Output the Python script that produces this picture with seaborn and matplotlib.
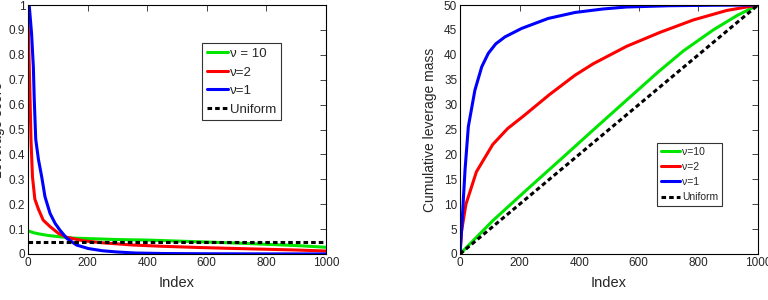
import numpy as np
import pandas as pd
import matplotlib
matplotlib.use("Agg")
import matplotlib.pyplot as plt
import seaborn as sns

sns.set_style("white")
plt.rcParams['font.family'] = ['Liberation Sans', 'DejaVu Sans']

# ---- Left panel: leverage scores ----
idx_nu1 = [0, 4, 12, 18, 21, 26, 35, 46, 57, 74, 91, 107, 130, 163, 202, 250, 300, 360, 450, 600, 800, 1000]
score_nu1 = [1.0, 1.0, 0.885, 0.75, 0.62, 0.46, 0.38, 0.31, 0.23, 0.163, 0.123, 0.096, 0.063, 0.036, 0.022, 0.013, 0.008, 0.004, 0.002, 0.001, 0.0005, 0.0003]

idx_nu2 = [0, 2, 7, 10, 15, 23, 35, 51, 74, 102, 130, 186, 250, 353, 450, 577, 700, 801, 900, 1000]
score_nu2 = [0.97, 0.86, 0.62, 0.46, 0.31, 0.22, 0.18, 0.136, 0.11, 0.083, 0.067, 0.053, 0.045, 0.036, 0.031, 0.026, 0.022, 0.019, 0.016, 0.012]

idx_nu10 = [0, 20, 40, 70, 100, 150, 200, 300, 400, 500, 600, 700, 800, 900, 1000]
score_nu10 = [0.093, 0.085, 0.08, 0.074, 0.07, 0.064, 0.062, 0.058, 0.056, 0.052, 0.048, 0.044, 0.039, 0.034, 0.027]

idx_unif = [0, 1000]
score_unif = [0.05, 0.05]

# ---- Right panel: cumulative leverage mass ----
cidx_nu1 = [0, 5.6, 17, 28, 50, 73, 95, 120, 151, 207, 296, 386, 480, 559, 700, 850, 1000]
cum_nu1 = [0, 5.0, 17.0, 25.6, 32.9, 37.6, 40.3, 42.2, 43.6, 45.3, 47.3, 48.5, 49.2, 49.6, 49.85, 49.95, 50]

cidx_nu2 = [0, 5, 20, 55, 110, 160, 215, 300, 386, 447, 559, 671, 783, 895, 1000]
cum_nu2 = [0, 4.5, 10.0, 16.5, 22.0, 25.2, 27.8, 32.0, 35.9, 38.2, 41.7, 44.5, 47.0, 48.9, 50]

cidx_nu10 = [0, 112, 224, 336, 447, 559, 666, 750, 850, 930, 1000]
cum_nu10 = [0, 6.8, 12.9, 18.9, 24.9, 30.9, 36.6, 40.8, 45.0, 47.9, 50]

cidx_unif = [0, 1000]
cum_unif = [0, 50]

GREEN, RED, BLUE = "#00e600", "#ff0000", "#0000ff"
DASH = (0, (1.5, 1.0))

fig = plt.figure(figsize=(7.68, 3.0), dpi=100)
axL = fig.add_axes([28/768, 1-254/300, 298/768, 249/300])
axR = fig.add_axes([460/768, 1-254/300, 298/768, 249/300])

lw = 2.2
sns.lineplot(x=idx_nu10, y=score_nu10, ax=axL, color=GREEN, lw=lw, label="ν = 10")
sns.lineplot(x=idx_nu2, y=score_nu2, ax=axL, color=RED, lw=lw, label="ν=2")
sns.lineplot(x=idx_nu1, y=score_nu1, ax=axL, color=BLUE, lw=lw, label="ν=1")
sns.lineplot(x=idx_unif, y=score_unif, ax=axL, color="black", lw=lw, label="Uniform", linestyle=DASH)

sns.lineplot(x=cidx_nu10, y=cum_nu10, ax=axR, color=GREEN, lw=lw, label="ν=10")
sns.lineplot(x=cidx_nu2, y=cum_nu2, ax=axR, color=RED, lw=lw, label="ν=2")
sns.lineplot(x=cidx_nu1, y=cum_nu1, ax=axR, color=BLUE, lw=lw, label="ν=1")
sns.lineplot(x=cidx_unif, y=cum_unif, ax=axR, color="black", lw=lw, label="Uniform", linestyle=DASH)

for ax in (axL, axR):
    ax.set_xlim(0, 1000)
    ax.set_xticks([0, 200, 400, 600, 800, 1000])
    ax.tick_params(direction="in", top=True, right=True, length=4, width=0.6, labelsize=8.5, pad=2)
    for s in ax.spines.values():
        s.set_linewidth(0.8)
        s.set_color("black")
    ax.set_xlabel("Index", fontsize=10.5, labelpad=0)
    ax.xaxis.set_label_coords(0.5, -0.088)

axL.set_ylim(0, 1)
axL.set_yticks(np.arange(0, 1.01, 0.1))
axL.set_yticklabels(["0"] + [f"{v:.1f}" for v in np.arange(0.1, 0.95, 0.1)] + ["1"])
axL.set_ylabel("Leverage score", fontsize=10)
axL.yaxis.set_label_coords(-0.077, 0.5)

axR.set_ylim(0, 50)
axR.set_yticks(range(0, 51, 5))
axR.set_ylabel("Cumulative leverage mass", fontsize=10)
axR.yaxis.set_label_coords(-0.077, 0.5)

legL = axL.legend(loc="upper left", bbox_to_anchor=(0.584, 0.847), fontsize=9.5, frameon=True,
                  fancybox=False, edgecolor="black", handlelength=1.6, handletextpad=0.15,
                  borderpad=0.35, labelspacing=0.48, borderaxespad=0)
legR = axR.legend(loc="upper left", bbox_to_anchor=(0.661, 0.446), fontsize=7.5, frameon=True,
                  fancybox=False, edgecolor="black", handlelength=1.9, handletextpad=0.15,
                  borderpad=0.35, labelspacing=0.5, borderaxespad=0)
for leg in (legL, legR):
    leg.get_frame().set_linewidth(0.8)

fig.savefig("out.png", dpi=100)
